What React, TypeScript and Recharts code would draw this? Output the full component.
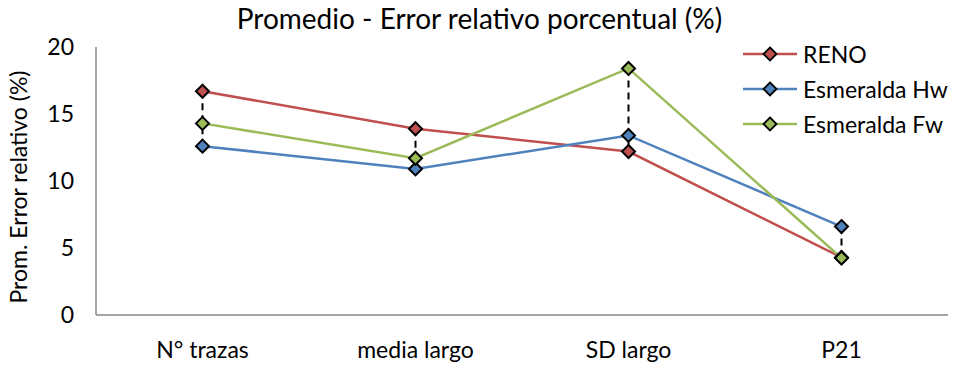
import React from 'react';
import { LineChart, Line, XAxis, YAxis, ReferenceLine } from 'recharts';

const categories = ['N° trazas', 'media largo', 'SD largo', 'P21'];
const reno = [16.7, 13.9, 12.2, 4.3];
const esmeraldaHw = [12.6, 10.9, 13.4, 6.6];
const esmeraldaFw = [14.3, 11.7, 18.4, 4.25];
const yTicks = [0, 5, 10, 15, 20];

const seriesDefs = [
  { key: 'reno', name: 'RENO', color: '#C0504D' },
  { key: 'hw', name: 'Esmeralda Hw', color: '#4F81BD' },
  { key: 'fw', name: 'Esmeralda Fw', color: '#9BBB59' },
];

const data = categories.map((c, i) => ({
  cat: c,
  reno: reno[i],
  hw: esmeraldaHw[i],
  fw: esmeraldaFw[i],
}));

const FONT = 'Lato, "Open Sans", sans-serif';

const Diamond = (props: any) => {
  const { cx, cy, fill } = props;
  if (cx == null || cy == null) return null;
  const r = 6.5;
  return (
    <path
      d={`M${cx},${cy - r} L${cx + r},${cy} L${cx},${cy + r} L${cx - r},${cy} Z`}
      fill={fill}
      stroke="#000"
      strokeWidth={2}
    />
  );
};

const LegendBox = () => (
  <div
    style={{
      position: 'absolute',
      left: 743,
      top: 36,
      fontFamily: FONT,
      fontSize: 23,
      color: '#000',
    }}
  >
    {seriesDefs.map((s) => (
      <div key={s.key} style={{ display: 'flex', alignItems: 'center', height: 35 }}>
        <svg width={54} height={16} style={{ marginRight: 6 }}>
          <line x1={0} y1={8} x2={54} y2={8} stroke={s.color} strokeWidth={2.5} />
          <path d="M27,1.5 L33.5,8 L27,14.5 L20.5,8 Z" fill={s.color} stroke="#000" strokeWidth={1.8} />
        </svg>
        <span>{s.name}</span>
      </div>
    ))}
  </div>
);

export default function App() {
  return (
    <div style={{ position: 'absolute', left: 0, top: 0, width: 959, height: 368, background: '#fff' }}>
      <LineChart
        width={959}
        height={368}
        data={data}
        margin={{ top: 47, right: 11, bottom: 0, left: 36 }}
      >
        <XAxis
          dataKey="cat"
          scale="band"
          height={53}
          stroke="#868686"
          strokeWidth={1.5}
          tickLine={false}
          tickSize={0}
          tickMargin={27}
          tick={{ fill: '#000', fontSize: 23, fontFamily: FONT }}
        />
        <YAxis
          width={60}
          domain={[0, 20]}
          ticks={yTicks}
          stroke="#868686"
          strokeWidth={1.5}
          tickLine={false}
          tickSize={0}
          tickMargin={22}
          tick={{ fill: '#000', fontSize: 23, fontFamily: FONT }}
          label={{
            value: 'Prom. Error relativo (%)',
            angle: -90,
            position: 'insideLeft',
            offset: -17,
            dy: 6,
            style: { textAnchor: 'middle', fontSize: 23, fontFamily: FONT, fill: '#000' },
          }}
        />
        {data.map((d) => {
          const vals = [d.reno, d.hw, d.fw];
          return (
            <ReferenceLine
              key={d.cat}
              segment={[
                { x: d.cat, y: Math.max(...vals) },
                { x: d.cat, y: Math.min(...vals) },
              ]}
              stroke="#000"
              strokeWidth={2}
              strokeDasharray="7 5"
            />
          );
        })}
        {seriesDefs.map((s) => (
          <Line
            key={s.key}
            dataKey={s.key}
            name={s.name}
            stroke={s.color}
            strokeWidth={2.5}
            dot={<Diamond fill={s.color} />}
            activeDot={false}
            isAnimationActive={false}
          />
        ))}
      </LineChart>
      <div
        style={{
          position: 'absolute',
          left: 0,
          top: 1,
          width: 959,
          textAlign: 'center',
          fontFamily: FONT,
          fontSize: 28,
          color: '#000',
        }}
      >
        Promedio - Error relativo porcentual (%)
      </div>
      <LegendBox />
    </div>
  );
}
